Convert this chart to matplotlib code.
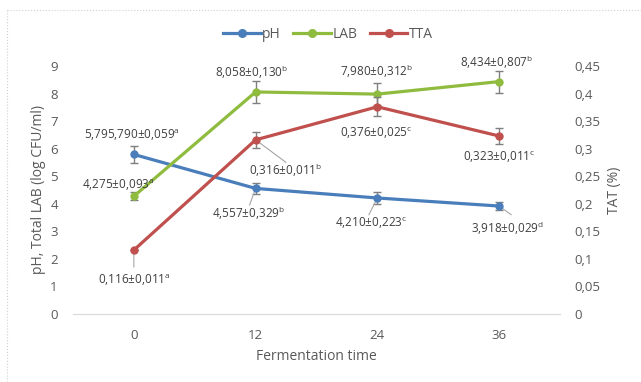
import matplotlib
matplotlib.use('Agg')
import matplotlib.pyplot as plt
from matplotlib.lines import Line2D

plt.rcParams['font.family'] = ['Open Sans', 'DejaVu Sans']
plt.rcParams['mathtext.fontset'] = 'custom'
plt.rcParams['mathtext.rm'] = 'Open Sans'

# data
times = ['0', '12', '24', '36']
ph = [5.79, 4.557, 4.210, 3.918]
ph_err = [0.3, 0.2, 0.2, 0.15]
lab = [4.275, 8.058, 7.980, 8.434]
lab_err = [0.15, 0.4, 0.4, 0.4]
tta = [0.116, 0.316, 0.376, 0.323]
tta_err = [0.0, 0.015, 0.017, 0.015]

ph_lbl = ['5,795,790±0,059$^\\mathrm{a}$', '4,557±0,329$^\\mathrm{b}$',
          '4,210±0,223$^\\mathrm{c}$', '3,918±0,029$^\\mathrm{d}$']
lab_lbl = ['4,275±0,093$^\\mathrm{a}$', '8,058±0,130$^\\mathrm{b}$',
           '7,980±0,312$^\\mathrm{b}$', '8,434±0,807$^\\mathrm{b}$']
tta_lbl = ['0,116±0,011$^\\mathrm{a}$', '0,316±0,011$^\\mathrm{b}$',
           '0,376±0,025$^\\mathrm{c}$', '0,323±0,011$^\\mathrm{c}$']

BLUE = '#4a7ebb'
GREEN = '#8fbc3f'
RED = '#c0504d'
TXT = '#404040'
TICK = '#595959'

fig = plt.figure(figsize=(6.41, 3.82), dpi=100)
ax = fig.add_axes([73/641, 1-314/382, 487/641, 248/382])
ax2 = ax.twinx()

x = range(len(times))

# outer chart frame (dotted, cut at right/bottom)
fig.add_artist(Line2D([7/641, 1], [1-10/382, 1-10/382], color='#d0d0d0', lw=0.8, ls=':'))
fig.add_artist(Line2D([7/641, 7/641], [0, 1-10/382], color='#d0d0d0', lw=0.8, ls=':'))

ekw = dict(ecolor='#7f7f7f', elinewidth=1.0, capsize=3, capthick=1.0)
ax.errorbar(x, ph, yerr=ph_err, color=BLUE, lw=2.3, marker='o', ms=5, zorder=3, **ekw)
ax.errorbar(x, lab, yerr=lab_err, color=GREEN, lw=2.3, marker='o', ms=5, zorder=3, **ekw)
ax2.errorbar(x, tta, yerr=tta_err, color=RED, lw=2.3, marker='o', ms=5, zorder=3, **ekw)

ax.set_xlim(-0.5, 3.5)
ax.set_ylim(0, 9)
ax2.set_ylim(0, 0.45)
ax.set_xticks(list(x))
ax.set_xticklabels(times)
ax.set_yticks(range(10))
ax2.set_yticks([i*0.05 for i in range(10)])
ax2.set_yticklabels(['0'] + [('%.2f' % (i*0.05)).rstrip('0').replace('.', ',') for i in range(1, 10)])

for a in (ax, ax2):
    for s in a.spines.values():
        s.set_visible(False)
    a.tick_params(length=0, labelsize=9.5, colors=TICK)
ax.spines['bottom'].set_visible(True)
ax.spines['bottom'].set_color('#d9d9d9')
ax.tick_params(axis='y', pad=11)
ax.tick_params(axis='x', pad=11)
ax2.tick_params(axis='y', pad=10)

ax.set_ylabel('pH, Total LAB (log CFU/ml)', fontsize=10, color=TICK, labelpad=3)
ax2.set_ylabel('TAT (%)', fontsize=10, color=TICK, labelpad=5)
ax.set_xlabel('Fermentation time', fontsize=10, color=TICK, labelpad=5)

# data labels (left-axis units)
lk = dict(fontsize=8.5, color=TXT, ha='center', va='center', zorder=5)
gray = dict(arrowprops=dict(arrowstyle='-', color='#a6a6a6', lw=0.8, shrinkA=0, shrinkB=0))
ph_pos = [(-0.02, 6.5), (0.94, 3.66), (1.95, 3.30), (3.07, 3.12)]
lab_pos = [(-0.13, 4.68), (0.97, 8.78), (1.99, 8.82), (2.98, 9.14)]
tta_pos = [(0.0, 1.23), (1.25, 5.22), (1.99, 6.57), (3.0, 5.70)]

for i in x:
    ax.text(ph_pos[i][0], ph_pos[i][1], ph_lbl[i], **lk)
    ax.text(lab_pos[i][0], lab_pos[i][1], lab_lbl[i], **lk)
    ax.text(tta_pos[i][0], tta_pos[i][1], tta_lbl[i], **lk)

# leader lines
ax.annotate('', xy=(1, ph[1]), xytext=(0.95, 3.95), **gray)
ax.annotate('', xy=(2, ph[2]), xytext=(1.93, 3.6), **gray)
ax.annotate('', xy=(3, ph[3]), xytext=(3.1, 3.6), **gray)
ax.annotate('', xy=(0, tta[0]*20), xytext=(0, 1.7), **gray)
ax.annotate('', xy=(1, tta[1]*20), xytext=(1.25, 5.5), **gray)

handles = [Line2D([], [], color=c, lw=2.3, marker='o', ms=5.5) for c in (BLUE, GREEN, RED)]
fig.legend(handles, ['pH', 'LAB', 'TTA'], loc='center', bbox_to_anchor=(328/641, 1-34/382),
           ncol=3, frameon=False, fontsize=10, labelcolor=TICK, handlelength=2.7,
           columnspacing=0.9, handletextpad=0.1)

fig.savefig('out.png', dpi=100)
